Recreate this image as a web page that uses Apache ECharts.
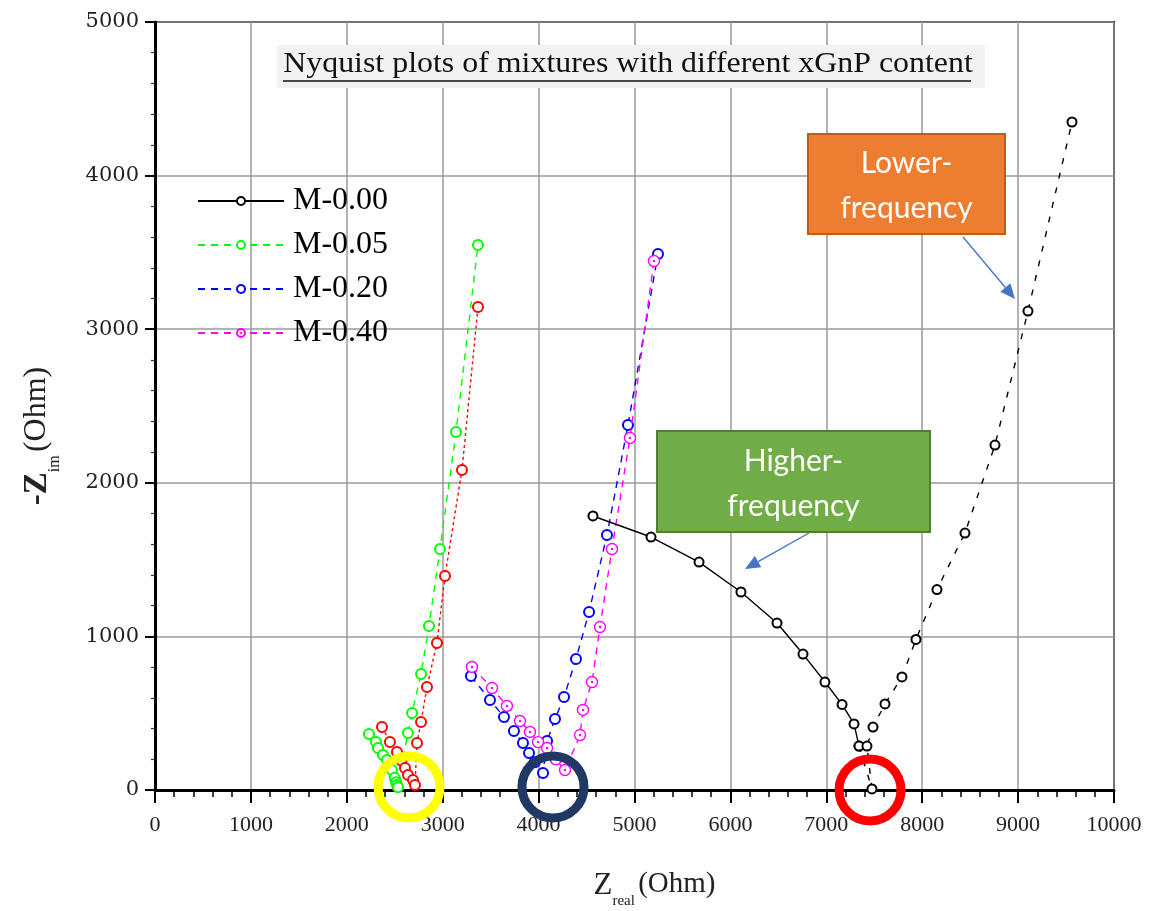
<!DOCTYPE html>
<html>
<head>
<meta charset="utf-8">
<title>Nyquist plots</title>
<script src="https://cdn.jsdelivr.net/npm/echarts@6/dist/echarts.min.js"></script>
<style>
  html, body { margin: 0; padding: 0; background: #fff; }
  #chart { width: 1156px; height: 911px; }
</style>
</head>
<body>
<div id="chart"></div>
<script>
// Impedance data (Ohm): real part (x) and negative imaginary part (y)
const m000HighX = [4567, 5172, 5673, 6110, 6486, 6757, 6986, 7164, 7289, 7341];
const m000HighY = [1784, 1647, 1484, 1289, 1087, 885, 703, 557, 430, 286];
const m000LowX  = [7341, 7476, 7424, 7487, 7612, 7789, 7935, 8154, 8446, 8759, 9103, 9562];
const m000LowY  = [286, 7, 286, 410, 560, 736, 980, 1305, 1673, 2246, 3118, 4349];

const m005X = [2231, 2304, 2325, 2377, 2419, 2470, 2500, 2515, 2523, 2534, 2638, 2680, 2774, 2857, 2972, 3139, 3368];
const m005Y = [365, 313, 273, 228, 195, 130, 80, 50, 33, 18, 371, 501, 755, 1068, 1569, 2331, 3548];

const m020X = [3295, 3493, 3639, 3743, 3837, 3900, 3960, 4046, 4088, 4171, 4265, 4390, 4526, 4713, 4932, 5245];
const m020Y = [742, 586, 475, 384, 306, 241, 180, 111, 319, 462, 605, 853, 1159, 1660, 2376, 3490];

const m040X = [3305, 3514, 3670, 3806, 3910, 3994, 4088, 4180, 4275, 4432, 4463, 4557, 4640, 4765, 4953, 5203];
const m040Y = [801, 664, 547, 449, 378, 312, 273, 200, 130, 358, 521, 703, 1061, 1569, 2292, 3444];

const extraX = [2367, 2450, 2523, 2570, 2607, 2638, 2690, 2711, 2732, 2774, 2836, 2940, 3024, 3201, 3368];
const extraY = [410, 313, 247, 190, 143, 98, 65, 33, 306, 443, 671, 957, 1393, 2083, 3145];

const xTicks = { min: 0, max: 10000, step: 1000 };
const yTicks = { min: 0, max: 5000, step: 1000 };

const legendNames = ['M-0.00', 'M-0.05', 'M-0.20', 'M-0.40'];

function pairs(xs, ys) { return xs.map((x, i) => [x, ys[i]]); }

const dotCircle = 'path://M0,10A10,10,0,1,1,20,10A10,10,0,1,1,0,10ZM9,10A1,1,0,1,1,11,10A1,1,0,1,1,9,10Z';

function lineSeries(name, xs, ys, color, dash, opts) {
  opts = opts || {};
  return {
    name: name,
    type: 'line',
    data: pairs(xs, ys),
    symbol: opts.symbol || 'emptyCircle',
    symbolSize: opts.size || 10,
    showSymbol: true,
    z: opts.z || 2,
    lineStyle: { color: color, width: 1.4, type: dash },
    itemStyle: opts.symbol ? { color: '#fff', borderColor: color, borderWidth: 1.4 }
                           : { color: color, borderWidth: 1.4 },
    emphasis: { disabled: true }
  };
}

const serif = '"Liberation Serif", "Times New Roman", serif';
const plain = v => String(v);

const chart = echarts.init(document.getElementById('chart'), null, { renderer: 'canvas' });

const option = {
  animation: false,
  backgroundColor: '#fff',
  grid: {
    left: 155, right: 42, top: 22, bottom: 121,
    outerBoundsMode: 'none',
    show: true, borderColor: '#000', borderWidth: 2, backgroundColor: 'transparent'
  },
  legend: {
    data: legendNames,
    orient: 'vertical',
    left: 192, top: 180,
    itemWidth: 86, itemHeight: 10, itemGap: 12,
    textStyle: { fontFamily: serif, fontSize: 32, color: '#000', padding: [0, 0, 0, 4] },
    selectedMode: false
  },
  xAxis: {
    type: 'value',
    min: xTicks.min, max: xTicks.max, interval: xTicks.step,
    axisLine: { show: true, onZero: false, lineStyle: { color: '#000', width: 3 } },
    axisTick: { show: true, inside: false, length: 13, lineStyle: { color: '#000', width: 2 } },
    minorTick: { show: true, splitNumber: 5, length: 7, lineStyle: { color: '#000', width: 1.5 } },
    splitLine: { show: true, lineStyle: { color: '#9a9a9a', width: 1.5 } },
    axisLabel: { margin: 24, fontFamily: serif, fontSize: 22, color: '#222', formatter: plain },
    name: '{z|Z}{sub|real} {o|(Ohm)}',
    nameLocation: 'middle',
    nameGap: 80,
    nameTextStyle: {
      padding: [0, 0, 0, 40],
      rich: {
        z: { fontFamily: serif, fontSize: 31, color: '#222', lineHeight: 32, verticalAlign: 'top' },
        sub: { fontFamily: serif, fontSize: 15, color: '#222', lineHeight: 15, padding: [24, 0, 0, 0], verticalAlign: 'top' },
        o: { fontFamily: serif, fontSize: 29, color: '#222', lineHeight: 32, verticalAlign: 'top' }
      }
    }
  },
  yAxis: {
    type: 'value',
    min: yTicks.min, max: yTicks.max, interval: yTicks.step,
    axisLine: { show: true, onZero: false, lineStyle: { color: '#000', width: 3 } },
    axisTick: { show: true, inside: false, length: 10, lineStyle: { color: '#000', width: 2 } },
    minorTick: { show: true, splitNumber: 5, length: 4, lineStyle: { color: '#333', width: 1.2 } },
    splitLine: { show: true, lineStyle: { color: '#9a9a9a', width: 1.5 } },
    axisLabel: { margin: 16, fontFamily: '"DejaVu Serif", serif', fontSize: 21, color: '#222', formatter: plain },
    name: '{z|-Z}{sub|im} {o|(Ohm)}',
    nameLocation: 'middle',
    nameGap: 100,
    nameTextStyle: {
      padding: [0, 60, 0, 0],
      rich: {
        z: { fontFamily: serif, fontSize: 33, fontWeight: 'bold', color: '#222', lineHeight: 34, verticalAlign: 'top' },
        sub: { fontFamily: serif, fontSize: 16, color: '#222', lineHeight: 16, padding: [26, 0, 0, 0], verticalAlign: 'top' },
        o: { fontFamily: serif, fontSize: 32, color: '#222', lineHeight: 34, verticalAlign: 'top' }
      }
    }
  },
  series: [
    lineSeries('M-0.00', m000HighX, m000HighY, '#000', 'solid', { size: 9, z: 5 }),
    lineSeries('M-0.05', m005X, m005Y, '#00ff00', [7, 6]),
    lineSeries('M-0.20', m020X, m020Y, '#0000ff', [7, 6]),
    lineSeries('M-0.40', m040X, m040Y, '#ff00ff', [7, 6], { symbol: dotCircle, size: 11, z: 3 }),
    lineSeries('M-0.10', extraX, extraY, '#ff0000', [3, 3], { z: 3 }),
    lineSeries('M-0.00', m000LowX, m000LowY, '#000', [6, 9], { size: 9, z: 5 })
  ]
};

chart.setOption(option);

// Annotation layer: title box, callout boxes with arrows, highlight rings
function arrow(x1, y1, x2, y2, color) {
  const dx = x2 - x1, dy = y2 - y1;
  const len = Math.hypot(dx, dy);
  const ux = dx / len, uy = dy / len;
  const hl = 15, hw = 6.5;
  const bx = x2 - ux * hl, by = y2 - uy * hl;
  return [
    { type: 'line', shape: { x1: x1, y1: y1, x2: bx, y2: by }, style: { stroke: color, lineWidth: 1.3 }, z: 20 },
    { type: 'polygon', shape: { points: [[x2, y2], [bx - uy * hw, by + ux * hw], [bx + uy * hw, by - ux * hw]] },
      style: { fill: color }, z: 20 }
  ];
}

function calloutBox(x, y, w, h, fill, border, lines, lineGap) {
  const items = [
    { type: 'rect', shape: { x: x, y: y, width: w, height: h }, style: { fill: fill, stroke: border, lineWidth: 2 }, z: 20 }
  ];
  lines.forEach((t, i) => {
    items.push({
      type: 'text', z: 21,
      style: {
        x: x + w / 2, y: y + h / 2 + 2 + (i - (lines.length - 1) / 2) * lineGap,
        text: t, fill: '#fff', font: '30px Lato, "Open Sans", sans-serif',
        textAlign: 'center', textVerticalAlign: 'middle'
      }
    });
  });
  return items;
}

const rings = [
  { at: [2649, 20], color: '#ffff00' },
  { at: [4150, 20], color: '#203864' },
  { at: [7456, 0], color: '#ff0000' }
];

const graphics = [];
// title
graphics.push({ type: 'rect', shape: { x: 277, y: 45, width: 708, height: 43 }, style: { fill: '#f2f2f2' }, z: 10 });
graphics.push({
  type: 'text', z: 11, x: 628, y: 64, scaleX: 1.1,
  style: { x: 0, y: 0, text: 'Nyquist plots of mixtures with different xGnP content',
           font: '29px "Liberation Serif", serif', fill: '#111', textAlign: 'center', textVerticalAlign: 'middle' }
});
graphics.push({ type: 'line', shape: { x1: 283, y1: 81, x2: 971, y2: 81 }, style: { stroke: '#111', lineWidth: 1.5 }, z: 11 });

// callouts
calloutBox(808, 134, 197, 100, '#ed7d31', '#c55a11', ['Lower-', 'frequency'], 45).forEach(g => graphics.push(g));
calloutBox(657, 431, 273, 101, '#70ad47', '#507e32', ['Higher-', 'frequency'], 45).forEach(g => graphics.push(g));
arrow(963, 237, 1015, 299, '#4472c4').forEach(g => graphics.push(g));
arrow(809, 533, 745, 569, '#4472c4').forEach(g => graphics.push(g));

// rings around the low-frequency intercepts
rings.forEach(r => {
  const p = chart.convertToPixel({ gridIndex: 0 }, r.at);
  graphics.push({ type: 'circle', shape: { cx: p[0], cy: p[1], r: 31 }, style: { fill: 'none', stroke: r.color, lineWidth: 9 }, z: 30 });
});

chart.setOption({ graphic: graphics });
</script>
</body>
</html>
